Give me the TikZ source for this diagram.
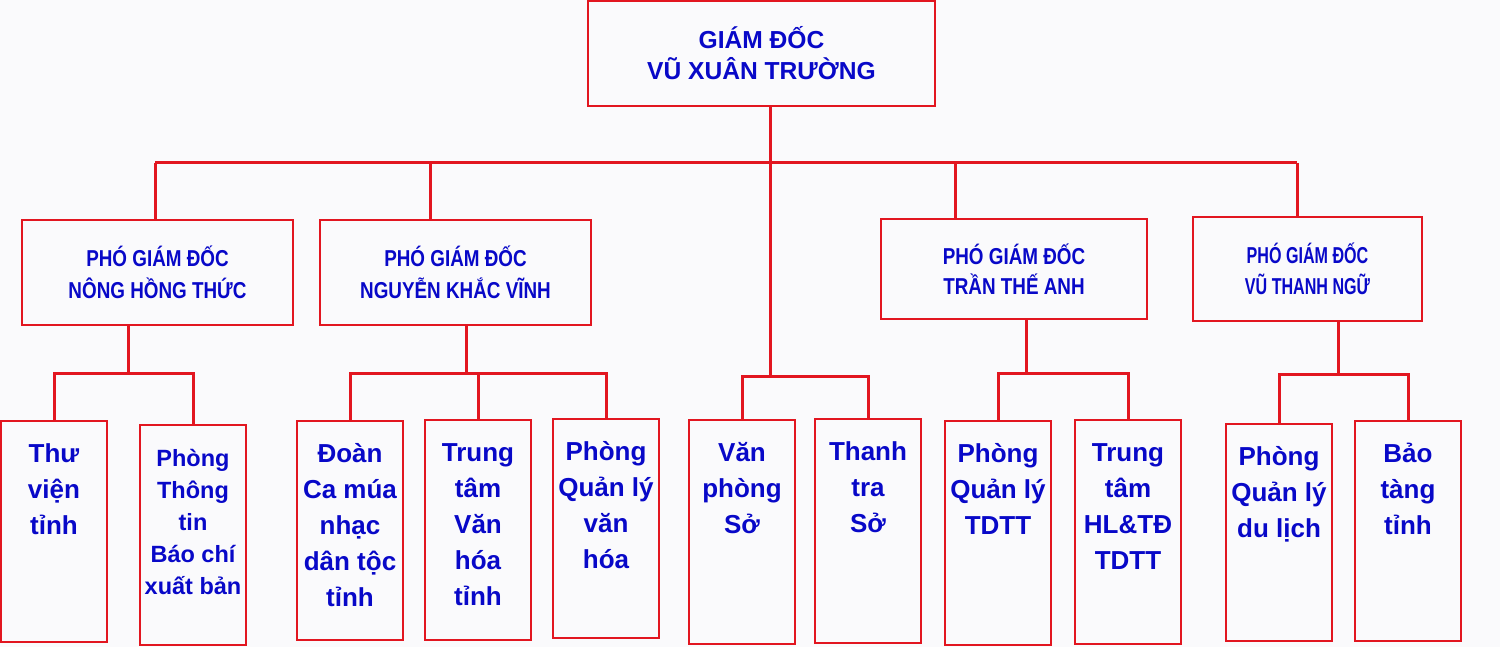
\documentclass[tikz,border=0pt]{standalone}
\usepackage{fontspec}
\setmainfont{Liberation Sans}
\newfontfamily\deputyfont[FakeStretch=0.82]{Liberation Sans}
\newfontfamily\deputynarrow[FakeStretch=0.7]{Liberation Sans}
\usetikzlibrary{calc}

\definecolor{chartred}{RGB}{226,22,32}
\definecolor{chartblue}{RGB}{8,8,200}
\definecolor{paper}{RGB}{250,250,252}

% text of a unit box, hung from the top edge
\newcommand{\stackbox}[2]{\parbox[t][#1][t]{53pt}{\centering\rule{0pt}{20.5pt}#2}}

\begin{document}
\begin{tikzpicture}[
  x=0.5pt, y=-0.5pt,
  link/.style={draw=chartred, line width=1.5pt},
  chief/.style={draw=chartred, line width=1.3pt, align=center, inner sep=0pt,
                text=chartblue, font=\bfseries\fontsize{12.3pt}{15.5pt}\selectfont},
  deputy/.style={draw=chartred, line width=1.3pt, align=center, inner sep=0pt,
                 text=chartblue, font=\deputyfont\bfseries\fontsize{11.5pt}{16pt}\selectfont},
  unit/.style={draw=chartred, line width=0.8pt, inner sep=0pt,
               text=chartblue, font=\bfseries\fontsize{13pt}{18pt}\selectfont},
]
\useasboundingbox (0,0) rectangle (1500,647);
\fill[paper] (0,0) rectangle (1500,647);

% ---- director
\node[chief, minimum width=173.5pt, minimum height=52.5pt] (gd) at (761.5,53.5)
  {GIÁM ĐỐC\\VŨ XUÂN TRƯỜNG};

% ---- deputies
\node[deputy, minimum width=135.5pt, minimum height=52.5pt] (pgdA) at (157.5,272.5)
  {PHÓ GIÁM ĐỐC\\NÔNG HỒNG THỨC};
\node[deputy, minimum width=135.5pt, minimum height=52.5pt] (pgdB) at (455.5,272.5)
  {PHÓ GIÁM ĐỐC\\NGUYỄN KHẮC VĨNH};
\node[deputy, minimum width=133pt, minimum height=50pt,
      font=\deputyfont\bfseries\fontsize{11.5pt}{15pt}\selectfont] (pgdC) at (1014,269)
  {PHÓ GIÁM ĐỐC\\TRẦN THẾ ANH};
\node[deputy, minimum width=114.5pt, minimum height=52pt,
      font=\deputynarrow\bfseries\fontsize{11.5pt}{15.5pt}\selectfont] (pgdD) at (1307.5,269)
  {PHÓ GIÁM ĐỐC\\VŨ THANH NGỮ};

% ---- units
\node[unit] (thuvien) at (54,531.5) {\stackbox{110.5pt}{Thư\\viện\\tỉnh}};
\node[unit, font=\bfseries\fontsize{11.75pt}{16pt}\selectfont] (ptt) at (193,535)
  {\stackbox{110pt}{Phòng\\Thông\\tin\\Báo chí\\xuất bản}};
\node[unit] (doan) at (350,530.5) {\stackbox{109.5pt}{Đoàn\\Ca múa\\nhạc\\dân tộc\\tỉnh}};
\node[unit] (ttvh) at (478,530) {\stackbox{110pt}{Trung\\tâm\\Văn\\hóa\\tỉnh}};
\node[unit] (qlvh) at (606,528.5) {\stackbox{109.5pt}{Phòng\\Quản lý\\văn\\hóa}};
\node[unit] (vanphong) at (742,532) {\stackbox{112pt}{Văn\\phòng\\Sở}};
\node[unit] (thanhtra) at (868,531) {\stackbox{112pt}{Thanh\\tra\\Sở}};
\node[unit] (tdtt) at (998,533) {\stackbox{112pt}{Phòng\\Quản lý\\TDTT}};
\node[unit] (tthl) at (1128,532) {\stackbox{112pt}{Trung\\tâm\\HL\&TĐ\\TDTT}};
\node[unit] (dulich) at (1279,532.5) {\stackbox{108.5pt}{Phòng\\Quản lý\\du lịch}};
\node[unit] (baotang) at (1408,531) {\stackbox{110pt}{Bảo\\tàng\\tỉnh}};

% ---- director to deputies
\coordinate (busL) at (155,163);
\coordinate (busR) at (1297,163);
\coordinate (dropB) at (430,163);
\coordinate (dropC) at (955,163);
\coordinate (mid) at (770,376);
\draw[link] (busL) -- (busR);
\foreach \d/\p in {busL/pgdA, dropB/pgdB, dropC/pgdC, busR/pgdD}
  \draw[link] (\d) -- (\d |- \p.north);
\draw[link] (gd.south -| mid) -- (mid);
\draw[link] (vanphong.north) |- (mid) -| (thanhtra.north);

% ---- deputies to units
\coordinate (jA) at (128,373);
\coordinate (jB) at (466,373);
\coordinate (jC) at (1026,373);
\coordinate (jD) at (1338,374);
\foreach \p/\j/\l/\r in {pgdA/jA/thuvien/ptt, pgdB/jB/doan/qlvh,
                         pgdC/jC/tdtt/tthl, pgdD/jD/dulich/baotang}{
  \draw[link] (\p.south -| \j) -- (\j);
  \draw[link] (\l.north) |- (\j) -| (\r.north);
}
\draw[link] (ttvh.north) -- (ttvh.north |- jB);

\end{tikzpicture}
\end{document}
